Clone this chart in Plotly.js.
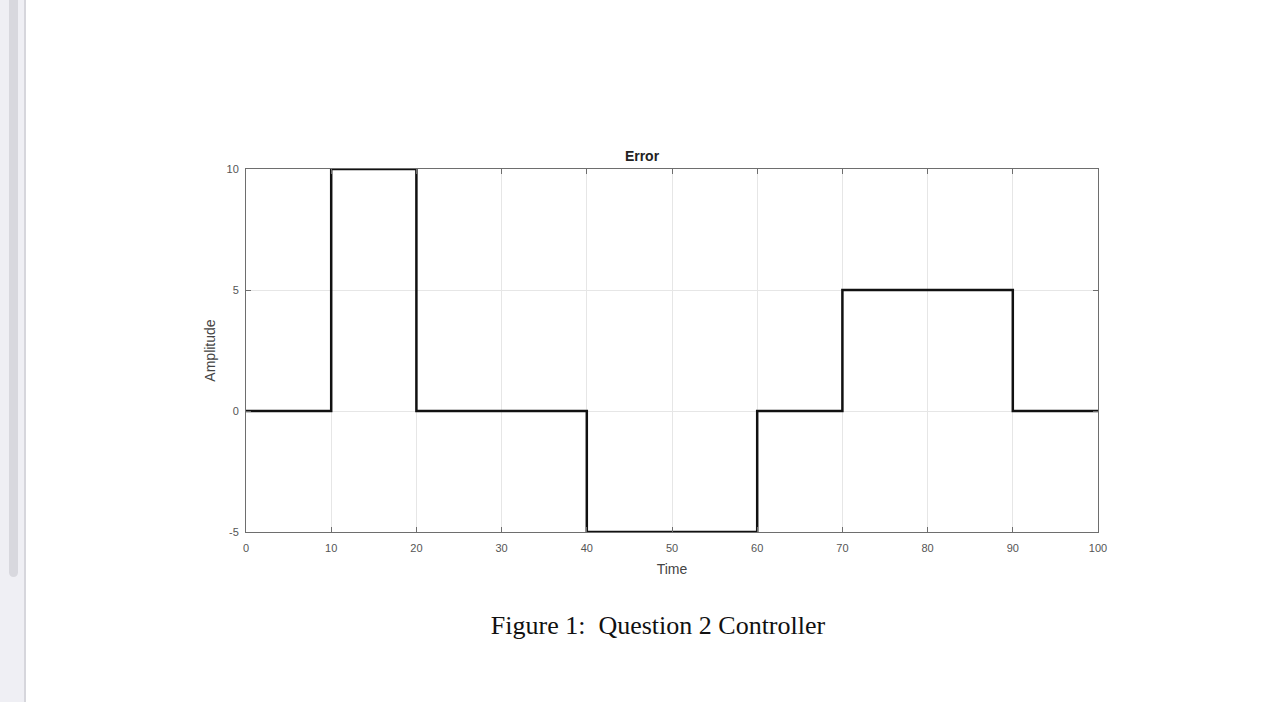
<!DOCTYPE html>
<html>
<head>
<meta charset="utf-8">
<script src="https://cdn.plot.ly/plotly-3.0.1.min.js"></script>
<style>
html,body{margin:0;padding:0;width:1284px;height:702px;overflow:hidden;background:#fff;}
#side{position:absolute;left:0;top:0;width:24px;height:702px;background:#efeff4;border-right:2px solid #d6d6dc;}
#thumb{position:absolute;left:9px;top:-6px;width:9px;height:583px;background:#d8d8de;border-radius:5px;}
#chart{position:absolute;left:0;top:0;width:1284px;height:702px;}
#cap{position:absolute;left:0;width:1316px;top:611px;text-align:center;font-family:"Liberation Serif","DejaVu Serif",serif;font-size:26px;color:#111;}
</style>
</head>
<body>
<div id="chart"></div>
<div id="side"><div id="thumb"></div></div>
<div id="cap">Figure 1:&nbsp; Question 2 Controller</div>
<script>
const time = [0, 10, 20, 40, 60, 70, 90, 100];
const amplitude = [0, 10, 0, -5, 0, 5, 0, 0];
const xTicks = [0, 10, 20, 30, 40, 50, 60, 70, 80, 90, 100];
const yTicks = [-5, 0, 5, 10];

const trace = {
  x: time, y: amplitude, mode: 'lines', type: 'scatter',
  line: {shape: 'hv', color: '#111', width: 2.5},
  hoverinfo: 'skip'
};
const axisCommon = {
  showline: true, linecolor: '#6e6e6e', linewidth: 1, mirror: 'ticks',
  ticks: 'inside', ticklen: 5, tickcolor: '#6e6e6e',
  showgrid: true, gridcolor: '#e6e6e6', gridwidth: 1,
  zeroline: false,
  tickfont: {family: 'Liberation Sans, Arial, sans-serif', size: 11, color: '#555'}
};
const layout = {
  width: 1284, height: 702,
  margin: {l: 246, r: 186, t: 169, b: 170},
  paper_bgcolor: '#fff', plot_bgcolor: '#fff',
  showlegend: false,
  title: {text: '<b>Error</b>', x: 0.5, xanchor: 'center', y: 1, yref: 'container', yanchor: 'top', pad: {t: 151},
          font: {family: 'Liberation Sans, Arial, sans-serif', size: 14, color: '#222'}},
  xaxis: Object.assign({}, axisCommon, {range: [0, 100], tickvals: xTicks, ticktext: xTicks.map(String),
    ticklabelstandoff: 6,
    title: {text: 'Time', standoff: 10, font: {family: 'Liberation Sans, Arial, sans-serif', size: 14, color: '#444'}}}),
  yaxis: Object.assign({}, axisCommon, {range: [-5, 10], tickvals: yTicks, ticktext: yTicks.map(String),
    ticklabelstandoff: 4,
    title: {text: 'Amplitude', standoff: 7, font: {family: 'Liberation Sans, Arial, sans-serif', size: 14, color: '#444'}}})
};
Plotly.newPlot('chart', [trace], layout, {displayModeBar: false, staticPlot: true});
</script>
</body>
</html>
